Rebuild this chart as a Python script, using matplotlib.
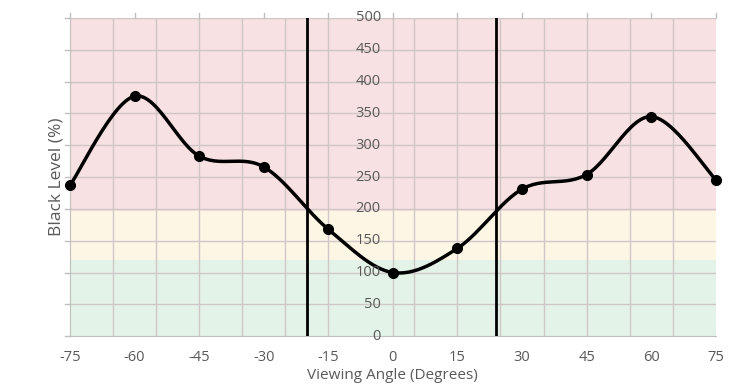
import matplotlib.pyplot as plt
import numpy as np

plt.rcParams['font.family'] = ['Open Sans', 'DejaVu Sans']

angles = [-75, -60, -45, -30, -15, 0, 15, 30, 45, 60, 75]
black_level = [237, 377, 283, 266, 168, 100, 138, 231, 254, 345, 246]
x_ticks = [-75, -60, -45, -30, -15, 0, 15, 30, 45, 60, 75]
y_ticks = [0, 50, 100, 150, 200, 250, 300, 350, 400, 450, 500]
grid_x = [-65, -55, -45, -35, -25, -15, 0, 5, 15, 25, 35, 45, 55, 65]
limits = [-20, 24]
bands = [(0, 120, '#e3f3e8'), (120, 197, '#fdf6e5'), (197, 500, '#f8e1e2')]


def smooth(x, y, n=30):
    # excel style smoothed line: catmull-rom through the points as bezier segments
    x = np.asarray(x, float)
    y = np.asarray(y, float)
    px = np.concatenate([[x[0]], x, [x[-1]]])
    py = np.concatenate([[y[0]], y, [y[-1]]])
    xs, ys = [], []
    t = np.linspace(0, 1, n)
    for i in range(1, len(px) - 2):
        p0 = np.array([px[i], py[i]])
        p3 = np.array([px[i + 1], py[i + 1]])
        p1 = p0 + (p3 - np.array([px[i - 1], py[i - 1]])) / 6
        p2 = p3 - (np.array([px[i + 2], py[i + 2]]) - p0) / 6
        pts = (np.outer((1 - t) ** 3, p0) + np.outer(3 * (1 - t) ** 2 * t, p1)
               + np.outer(3 * (1 - t) * t ** 2, p2) + np.outer(t ** 3, p3))
        xs.extend(pts[:, 0])
        ys.extend(pts[:, 1])
    return xs, ys


fig = plt.figure(figsize=(7.44, 3.9), dpi=100)
ax = fig.add_axes([0.094, 0.138, 0.868, 0.816])

for lo, hi, c in bands:
    ax.axhspan(lo, hi, color=c, zorder=0, lw=0)

for g in grid_x:
    ax.axvline(g, color='#cfc6c7', lw=1, zorder=1)
for yv in y_ticks[1:]:
    ax.axhline(yv, color='#cfc6c7', lw=1, zorder=1)

for v in limits:
    ax.axvline(v, color='black', lw=2, zorder=3)

sx, sy = smooth(angles, black_level)
ax.plot(sx, sy, color='black', lw=2.5, zorder=4, clip_on=False)
ax.plot(angles, black_level, 'o', color='black', ms=7, zorder=5, clip_on=False)

ax.set_xlim(-75, 75)
ax.set_ylim(0, 500)

ax.set_xticks(x_ticks)
ax.set_xticklabels([str(v) for v in x_ticks], color='#595959', fontsize=10.5)
ax.tick_params(axis='x', length=0, pad=10)
ax.set_yticks([])

# y labels sit in the middle of the chart, next to the 0 line
for yv in y_ticks:
    ax.text(-2.8, yv, str(yv), ha='right', va='center', color='#595959',
            fontsize=10.5, zorder=6)

# small tick marks on top and left
for xv in x_ticks:
    ax.plot([xv, xv], [500, 508], color='#bfbfbf', lw=1, clip_on=False)
for yv in y_ticks:
    ax.plot([-75, -76.2], [yv, yv], color='#bfbfbf', lw=1, clip_on=False)

for s in ['top', 'right']:
    ax.spines[s].set_visible(False)
ax.spines['left'].set_color('#bfbfbf')
ax.spines['bottom'].set_color('#bfbfbf')

ax.set_xlabel('Viewing Angle (Degrees)', color='#595959', fontsize=11, labelpad=2)
ax.set_ylabel('Black Level (%)', color='#595959', fontsize=12.5, labelpad=4)

fig.savefig('out.png', dpi=100)
